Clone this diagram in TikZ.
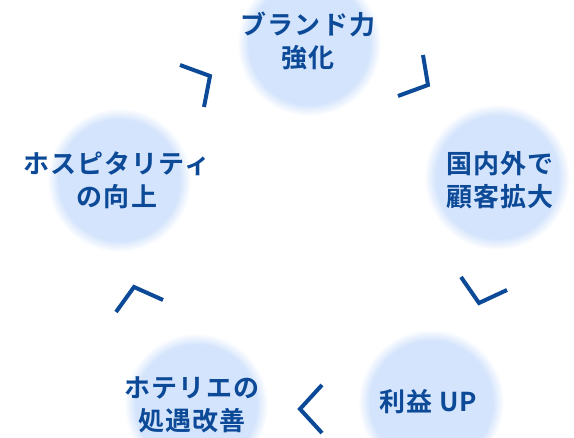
\documentclass[tikz,border=0pt]{standalone}
\usepackage{fontspec}
\newfontfamily\jp[LetterSpace=4]{Noto Sans CJK JP Bold}
\definecolor{navy}{HTML}{0C4A98}
\definecolor{disk}{HTML}{D4E4FC}
\pgfdeclareradialshading{softdisk}{\pgfpoint{0bp}{0bp}}{color(0bp)=(disk); color(21bp)=(disk); color(25bp)=(white); color(50bp)=(white)}
\tikzset{
  softcircle/.style={shading=softdisk},
  label/.style={text=navy, font=\jp\fontsize{26}{33}\selectfont, align=center, inner sep=0pt},
  chev/.style={draw=navy, line width=4pt, line cap=butt, line join=miter}
}
\begin{document}
\begin{tikzpicture}[x=1pt,y=-1pt]
\useasboundingbox (0,0) rectangle (574,438);
\fill[white] (0,0) rectangle (574,438);
% circles
\shade[softcircle] (309,44) circle (72);
\shade[softcircle] (119,180) circle (72);
\shade[softcircle] (497,177) circle (73);
\shade[softcircle] (196,405) circle (72);
\shade[softcircle] (431,402) circle (73);
% labels
\node[label] (brand) at (308,41) {ブランド力\\強化};
\node[label] (hosp) at (117,180) {ホスピタリティ\\の向上};
\node[label] (cust) at (500,180) {国内外で\\顧客拡大};
\node[label] (hotel) at (192,405) {ホテリエの\\処遇改善};
\node[label] (profit) at (428,402) {利益 UP};
% chevrons
\coordinate (c1a) at (180,65); \coordinate (c1b) at (210,76); \coordinate (c1c) at (204,107);
\coordinate (c2a) at (423,55); \coordinate (c2b) at (428,85); \coordinate (c2c) at (398,96);
\coordinate (c3a) at (461,277); \coordinate (c3b) at (479,303); \coordinate (c3c) at (507,290);
\coordinate (c4a) at (322,385); \coordinate (c4b) at (300,409); \coordinate (c4c) at (322,433);
\coordinate (c5a) at (116,312); \coordinate (c5b) at (134,287); \coordinate (c5c) at (163,300);
\draw[chev] (c1a) -- (c1b) -- (c1c);
\draw[chev] (c2a) -- (c2b) -- (c2c);
\draw[chev] (c3a) -- (c3b) -- (c3c);
\draw[chev] (c4a) -- (c4b) -- (c4c);
\draw[chev] (c5a) -- (c5b) -- (c5c);
\end{tikzpicture}
\end{document}
